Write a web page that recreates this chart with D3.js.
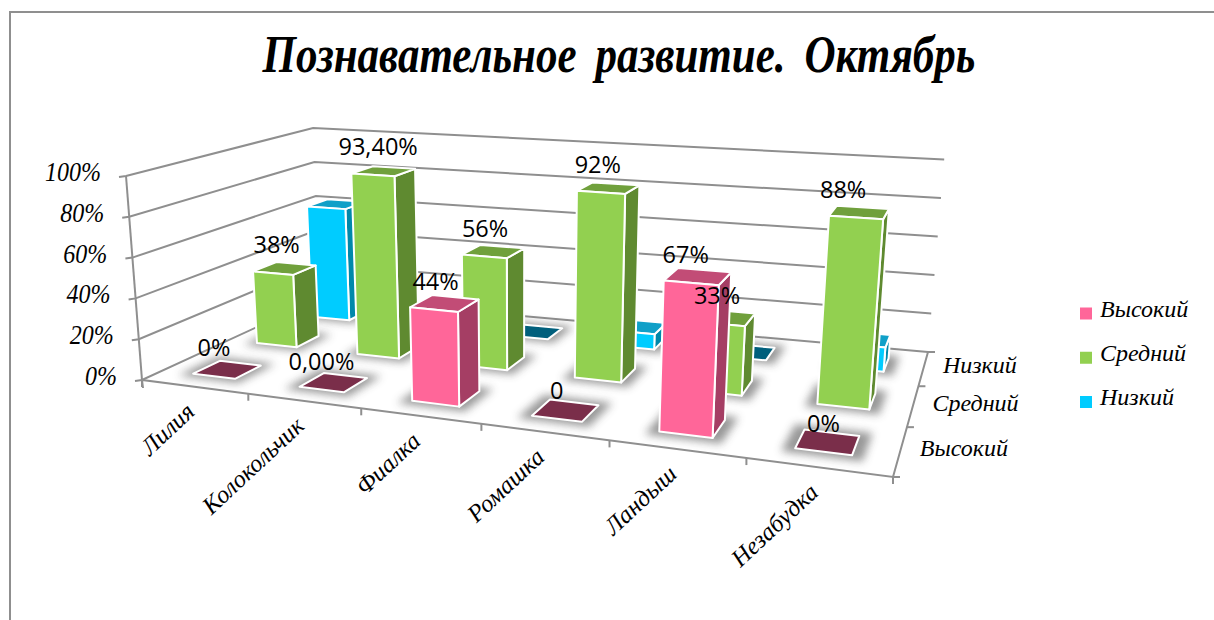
<!DOCTYPE html>
<html lang="ru"><head><meta charset="utf-8">
<script src="https://cdn.jsdelivr.net/npm/d3@7"></script>
<style>
html,body{margin:0;padding:0;background:#fff;overflow:hidden}
svg{display:block}
.script{font-family:"Liberation Serif",serif;font-style:italic;fill:#000}
.lab{font-family:"Open Sans",sans-serif;fill:#000}
</style></head><body><div id="c"></div>
<script>
// ---- data ----
const titleText = "Познавательное развитие. Октябрь";
const categories = ["Лилия","Колокольчик","Фиалка","Ромашка","Ландыш","Незабудка"];
const seriesNames = ["Высокий","Средний","Низкий"];
const high = [0,0,44,0,67,0];
const mid  = [38,93.4,56,92,33,88];
const low  = [62,6.6,0,8,0,12];
const highLabels = ["0%","0,00%","44%","0","67%","0%"];
const midLabels  = ["38%","93,40%","56%","92%","33%","88%"];
const yTicks = [0,20,40,60,80,100];
// ---- styles ----
const front = ["#ff6699","#92d050","#00ccff"];
const side  = ["#a53e64","#5f8a30","#0088aa"];
const top_  = ["#c24c76","#70a03c","#10a0c8"];
const flat  = ["#7a2e4a","#7a2e4a","#005f7c"];
const axisColor = "#8f8f8f";

const W=1214,H=620;
const svg=d3.select("#c").append("svg").attr("width",W).attr("height",H);
const defs=svg.append("defs");
defs.append("filter").attr("id","sh").attr("x","-50%").attr("y","-80%").attr("width","200%").attr("height","260%")
  .append("feGaussianBlur").attr("stdDeviation",4);

// frame
svg.append("path").attr("d",`M10,${H}V12H${W}`).attr("fill","none").attr("stroke",axisColor).attr("stroke-width",2);

// ---- perspective box: unit square (u along categories, v front→back) ----
function homography(q){
  const [[x0,y0],[x1,y1],[x2,y2],[x3,y3]]=q;
  const dx1=x1-x2,dx2=x3-x2,sx=x0-x1+x2-x3,dy1=y1-y2,dy2=y3-y2,sy=y0-y1+y2-y3;
  const det=dx1*dy2-dx2*dy1;
  const g=(sx*dy2-dx2*sy)/det,h=(dx1*sy-sx*dy1)/det;
  const a=x1-x0+g*x1,b=x3-x0+h*x3,c=x0,d=y1-y0+g*y1,e=y3-y0+h*y3,f=y0;
  return (u,v)=>{const w=g*u+h*v+1;return [(a*u+b*v+c)/w,(d*u+e*v+f)/w];};
}
const floorH=homography([[142,380],[893,477],[928,352],[320,298]]);
const uWarp=u=>1.08*u/(1+0.08*u);
const heightAt=d3.scaleLinear().domain([298,380]).range([170,204]);
const vanish=[520,5200];
const yS=d3.scaleLinear().domain([0,100]).range([0,1]);
function P(u,v,val){
  const a=floorH(uWarp(u),v),t=yS(val),h=heightAt(a[1])*t;
  return [a[0]+(a[0]-vanish[0])/(vanish[1]-a[1])*h,a[1]-h];
}
const uS=d3.scaleBand().domain(categories).range([-0.002,0.998]).paddingInner(0.6).paddingOuter(0.3);
const vS=d3.scaleBand().domain(seriesNames).range([0,1]).paddingInner(0.6).paddingOuter(0.3);
const line=d3.line();
const poly=pts=>line(pts)+"Z";

// ---- walls ----
const g=svg.append("g").attr("fill","none").attr("stroke",axisColor).attr("stroke-width",2);
yTicks.forEach(t=>{
  g.append("path").attr("d",line([[P(0,0,t)[0]-7,P(0,0,t)[1]+1],P(0,0,t),P(0,1,t),P(1,1,t)]));
});
g.append("path").attr("d",line([P(0,0,100),P(0,0,0)]));
g.append("path").attr("d",line([[P(0,0,0)[0]+1,P(0,0,0)[1]+8],P(0,0,0),P(1,0,0),P(1,1,0)]));
d3.range(0,categories.length+1).forEach(i=>{
  const p=P(i/categories.length,0,0);
  g.append("path").attr("d",line([p,[p[0],p[1]+7]]));
});
d3.range(0,seriesNames.length+1).forEach(i=>{
  const p=P(1,i/seriesNames.length,0);
  g.append("path").attr("d",line([p,[p[0]+7,p[1]]]));
});

// ---- bars: back row first, left → right ----
const bars=svg.append("g");
const seriesVals=[high,mid,low];
const labels=[];
[2,1,0].forEach(s=>{
  categories.forEach((c,i)=>{
    const val=seriesVals[s][i];
    const u0=uS(c),u1=u0+uS.bandwidth(),v0=vS(seriesNames[s]),v1=v0+vS.bandwidth();
    const gu=0.014,gv=0.03;
    bars.append("path").attr("d",poly([P(u0-gu,v0-gv,0),P(u1+gu,v0-gv,0),P(u1+gu,v1+gv,0),P(u0-gu,v1+gv,0)]))
      .attr("fill","#444").attr("opacity",0.55).attr("filter","url(#sh)");
    const st=sel=>sel.attr("stroke","#fff").attr("stroke-width",2).attr("stroke-linejoin","round");
    if(val===0){
      bars.append("path").attr("d",poly([P(u0,v0,0),P(u1,v0,0),P(u1,v1,0),P(u0,v1,0)])).attr("fill",flat[s]).call(st);
    } else {
      bars.append("path").attr("d",poly([P(u1,v0,0),P(u1,v1,0),P(u1,v1,val),P(u1,v0,val)])).attr("fill",side[s]).call(st);
      bars.append("path").attr("d",poly([P(u0,v0,val),P(u1,v0,val),P(u1,v1,val),P(u0,v1,val)])).attr("fill",top_[s]).call(st);
      bars.append("path").attr("d",poly([P(u0,v0,0),P(u1,v0,0),P(u1,v0,val),P(u0,v0,val)])).attr("fill",front[s]).call(st);
    }
    const txt=s===0?highLabels[i]:s===1?midLabels[i]:null;
    if(txt!==null){
      const a=P(u0+uS.bandwidth()/2,v0,val),b=P(u0+uS.bandwidth()/2,v0,0);
      labels.push({txt,x:b[0],y:a[1]-28});
    }
  });
});
svg.append("g").selectAll("text").data(labels).join("text").attr("class","lab")
  .attr("x",d=>d.x).attr("y",d=>d.y).attr("dy","0.35em").attr("text-anchor","middle")
  .attr("font-size",23.5).text(d=>d.txt);

// ---- axis text ----
svg.append("text").attr("class","script").attr("x",619).attr("y",72).attr("text-anchor","middle")
  .attr("font-size",53).attr("font-weight","bold").attr("word-spacing",10).attr("textLength",713).attr("lengthAdjust","spacingAndGlyphs").text(titleText);
yTicks.forEach(t=>{
  const p=P(0,0,t);
  const el=svg.append("text").attr("class","script").attr("x",p[0]-25).attr("y",p[1]+5).attr("text-anchor","end")
    .attr("font-size",27).text(t+"%");
  el.attr("textLength",el.node().getComputedTextLength()*0.89).attr("lengthAdjust","spacingAndGlyphs");
});
categories.forEach(c=>{
  const p=P(uS(c)+uS.bandwidth()/2,0,0);
  svg.append("text").attr("class","script").attr("text-anchor","end").attr("font-size",24.5)
    .attr("transform",`translate(${p[0]+3},${p[1]+27}) rotate(-43)`).text(c);
});
seriesNames.forEach(n=>{
  const p=P(1,vS(n)+vS.bandwidth()/2,0);
  svg.append("text").attr("class","script").attr("x",p[0]+19.5).attr("y",p[1]+5).attr("font-size",24).text(n);
});
// ---- legend ----
const legY=d3.scalePoint().domain(seriesNames).range([313.5,402]);
seriesNames.forEach((n,i)=>{
  svg.append("rect").attr("x",1080).attr("y",legY(n)-6).attr("width",12).attr("height",12).attr("fill",front[i]);
  svg.append("text").attr("class","script").attr("x",1100).attr("y",legY(n)+3).attr("font-size",24).text(n);
});
</script></body></html>
